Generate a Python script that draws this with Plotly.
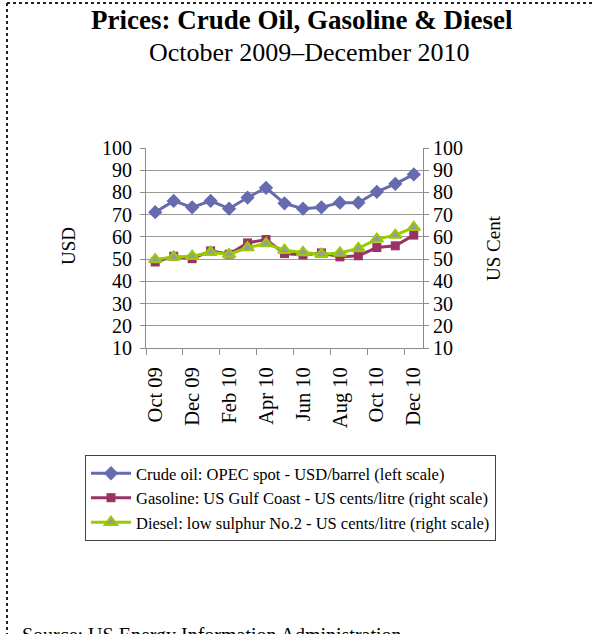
import plotly.graph_objects as go

# Monthly prices, October 2009 to December 2010
months = ["Oct 09", "Nov 09", "Dec 09", "Jan 10", "Feb 10", "Mar 10", "Apr 10",
          "May 10", "Jun 10", "Jul 10", "Aug 10", "Sep 10", "Oct 10", "Nov 10", "Dec 10"]
crude_usd_barrel = [71.1, 76.2, 73.3, 76.2, 72.7, 77.7, 82.1, 75.1, 72.7, 73.3,
                    75.4, 75.4, 80.3, 83.9, 88.1]
gasoline_cents_litre = [48.7, 51.3, 50.2, 53.7, 52.2, 57.3, 58.8, 52.5, 51.9, 52.8,
                        51.0, 51.5, 55.2, 56.0, 60.8]
diesel_cents_litre = [49.8, 51.0, 51.3, 53.1, 52.1, 55.2, 57.0, 54.0, 53.0, 52.2,
                      52.8, 54.8, 59.0, 60.8, 64.3]
axis_ticks = [10, 20, 30, 40, 50, 60, 70, 80, 90, 100]

W, H = 594, 634
FONT = "Liberation Serif, Times New Roman, serif"
AXIS_GREY = "#8c8c8c"

x = list(range(len(months)))
label_idx = x[::2]

fig = go.Figure()
fig.add_trace(go.Scatter(
    x=x, y=crude_usd_barrel, name="Crude oil: OPEC spot - USD/barrel (left scale)",
    mode="lines+markers", line=dict(color="#666AAE", width=3),
    marker=dict(symbol="diamond", size=11, color="#666AAE"), yaxis="y"))
fig.add_trace(go.Scatter(
    x=x, y=gasoline_cents_litre,
    name="Gasoline: US Gulf Coast - US cents/litre (right scale)",
    mode="lines+markers", line=dict(color="#993366", width=3),
    marker=dict(symbol="square", size=9, color="#993366"), yaxis="y2"))
fig.add_trace(go.Scatter(
    x=x, y=diesel_cents_litre,
    name="Diesel: low sulphur No.2 - US cents/litre (right scale)",
    mode="lines+markers", line=dict(color="#99CC00", width=3),
    marker=dict(symbol="triangle-up", size=11, color="#9a9a9a",
                line=dict(color="#99CC00", width=2)), yaxis="y2"))

x0, x1 = 146 / W, 423 / W
y0, y1 = 1 - 348 / H, 1 - 148 / H

fig.update_layout(
    width=W, height=H,
    margin=dict(l=0, r=0, t=0, b=0, pad=0),
    paper_bgcolor="white", plot_bgcolor="white",
    font=dict(family=FONT, color="black"),
    showlegend=True,
    xaxis=dict(
        domain=[x0, x1], range=[-0.5, len(months) - 0.5], automargin=False,
        tickmode="array", tickvals=label_idx,
        ticktext=[months[i] for i in label_idx],
        tickangle=-90, ticks="", ticklabelstandoff=10,
        tickfont=dict(size=20.5, family=FONT),
        showgrid=False, zeroline=False,
        showline=True, linecolor=AXIS_GREY, linewidth=1,
        minor=dict(tickmode="array", tickvals=[i - 0.5 for i in label_idx],
                   ticks="outside", ticklen=6, tickcolor=AXIS_GREY, showgrid=False),
    ),
    yaxis=dict(
        domain=[y0, y1], range=[10, 100], automargin=False,
        tickmode="array", tickvals=axis_ticks,
        ticks="outside", ticklen=5, tickcolor=AXIS_GREY, ticklabelstandoff=4,
        tickfont=dict(size=20, family=FONT),
        showgrid=True, gridcolor="#9a9a9a", gridwidth=1,
        zeroline=False, showline=True, linecolor=AXIS_GREY, linewidth=1,
    ),
    yaxis2=dict(
        overlaying="y", side="right", range=[10, 100], automargin=False,
        tickmode="array", tickvals=axis_ticks,
        ticks="outside", ticklen=5, tickcolor=AXIS_GREY,
        tickfont=dict(size=20, family=FONT),
        showgrid=False, zeroline=False,
        showline=True, linecolor=AXIS_GREY, linewidth=1,
    ),
    legend=dict(
        x=85 / W, y=1 - 455 / H, xanchor="left", yanchor="top",
        bordercolor="#444444", borderwidth=1, bgcolor="white",
        font=dict(size=16.5, family=FONT), itemwidth=40,
        tracegroupgap=2,
    ),
)

# Title, subtitle, axis titles and source note
fig.add_annotation(text="<b>Prices: Crude Oil, Gasoline &amp; Diesel</b>",
                   x=302 / W, y=1 - 20 / H, xref="paper", yref="paper",
                   xanchor="center", yanchor="middle",
                   showarrow=False, font=dict(size=27, family=FONT))
fig.add_annotation(text="October 2009\u2013December 2010",
                   x=309 / W, y=1 - 52 / H, xref="paper", yref="paper",
                   xanchor="center", yanchor="middle",
                   showarrow=False, font=dict(size=26, family=FONT))
fig.add_annotation(text="USD", textangle=-90,
                   x=68 / W, y=1 - 246 / H, xref="paper", yref="paper",
                   xanchor="center", yanchor="middle",
                   showarrow=False, font=dict(size=19, family=FONT))
fig.add_annotation(text="US Cent", textangle=-90,
                   x=493 / W, y=1 - 248 / H, xref="paper", yref="paper",
                   xanchor="center", yanchor="middle",
                   showarrow=False, font=dict(size=19, family=FONT))
fig.add_annotation(text="Source: US Energy Information Administration",
                   x=20 / W, y=1 - 622 / H, xref="paper", yref="paper",
                   xanchor="left", yanchor="top", showarrow=False,
                   font=dict(size=20, family=FONT))

# Dashed frame along the top and left edges
frame = dict(color="#222222", width=2, dash="3px,3px")
fig.add_shape(type="line", xref="paper", yref="paper",
              x0=7 / W, x1=1, y0=1 - 3 / H, y1=1 - 3 / H, line=frame)
fig.add_shape(type="line", xref="paper", yref="paper",
              x0=7 / W, x1=7 / W, y0=1 - 3 / H, y1=0, line=frame)

fig.write_html("out.html")
